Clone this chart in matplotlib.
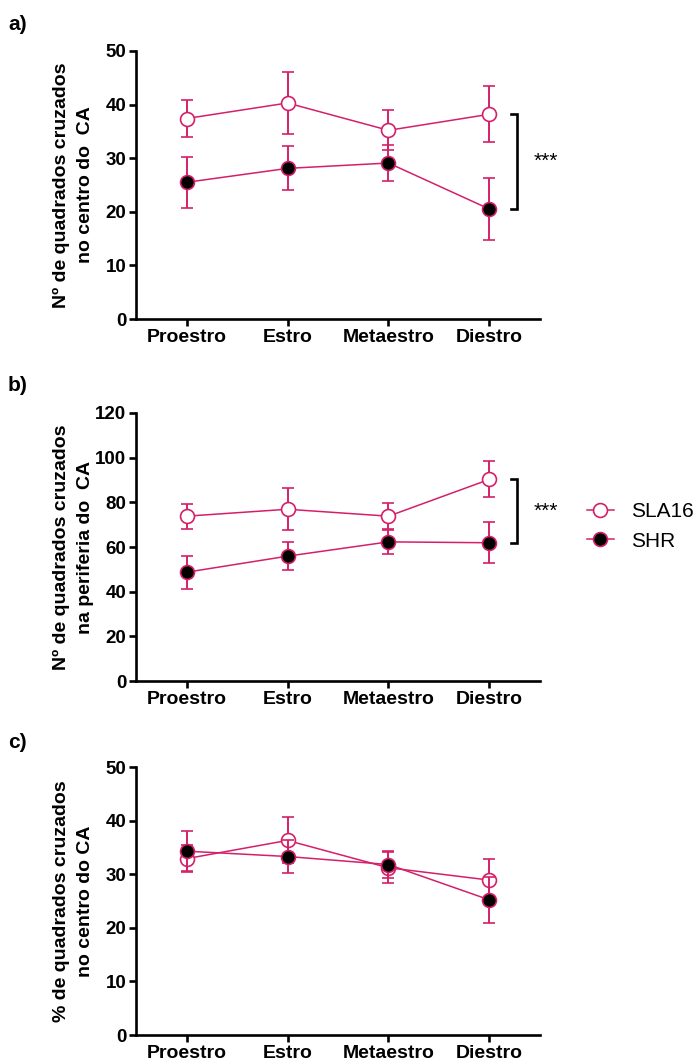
import matplotlib
matplotlib.use("Agg")
import matplotlib.pyplot as plt
import numpy as np

plt.rcParams['font.family'] = ['Liberation Sans', 'DejaVu Sans']

categories = ["Proestro", "Estro", "Metaestro", "Diestro"]
series_names = ["SLA16", "SHR"]

# Panel a: Nº de quadrados cruzados no centro do CA
a_sla16 = [37.4, 40.3, 35.2, 38.2]
a_sla16_sem = [3.4, 5.8, 3.7, 5.2]
a_shr = [25.5, 28.1, 29.1, 20.5]
a_shr_sem = [4.7, 4.1, 3.3, 5.8]

# Panel b: Nº de quadrados cruzados na periferia do CA
b_sla16 = [73.8, 76.9, 73.8, 90.3]
b_sla16_sem = [5.6, 9.3, 5.8, 8.1]
b_shr = [48.7, 55.9, 62.3, 61.9]
b_shr_sem = [7.4, 6.4, 5.4, 9.2]

# Panel c: % de quadrados cruzados no centro do CA
c_sla16 = [32.9, 36.3, 31.2, 28.9]
c_sla16_sem = [2.5, 4.3, 2.9, 3.9]
c_shr = [34.3, 33.3, 31.8, 25.2]
c_shr_sem = [3.7, 3.0, 2.6, 4.3]

panels = [
    dict(letter="a)", sla=a_sla16, sla_e=a_sla16_sem, shr=a_shr, shr_e=a_shr_sem,
         ylabel="Nº de quadrados cruzados\nno centro do  CA", ymax=50, yticks=[0, 10, 20, 30, 40, 50],
         sig="***"),
    dict(letter="b)", sla=b_sla16, sla_e=b_sla16_sem, shr=b_shr, shr_e=b_shr_sem,
         ylabel="Nº de quadrados cruzados\nna periferia do  CA", ymax=120,
         yticks=[0, 20, 40, 60, 80, 100, 120], sig="***"),
    dict(letter="c)", sla=c_sla16, sla_e=c_sla16_sem, shr=c_shr, shr_e=c_shr_sem,
         ylabel="% de quadrados cruzados\nno centro do CA", ymax=50, yticks=[0, 10, 20, 30, 40, 50],
         sig=None),
]

COL = '#D4206A'
W, H = 697, 1064
fig = plt.figure(figsize=(W / 100, H / 100), dpi=100)

ax_left, ax_w, ax_h = 136, 404, 268
tops = [51, 413, 767]
letter_y = [24, 385, 742]

x = np.arange(len(categories))
axes = []
for p, top, ly in zip(panels, tops, letter_y):
    ax = fig.add_axes([ax_left / W, (H - top - ax_h) / H, ax_w / W, ax_h / H])
    axes.append(ax)
    l1 = ax.errorbar(x, p["sla"], yerr=p["sla_e"], fmt='-o', color=COL, lw=1.1,
                     elinewidth=1.4, capsize=4.5, capthick=1.4, markersize=10,
                     markerfacecolor='white', markeredgecolor=COL, markeredgewidth=1.2,
                     zorder=3, clip_on=False, label=series_names[0])
    l2 = ax.errorbar(x, p["shr"], yerr=p["shr_e"], fmt='-o', color=COL, lw=1.1,
                     elinewidth=1.4, capsize=4.5, capthick=1.4, markersize=10,
                     markerfacecolor='black', markeredgecolor=COL, markeredgewidth=1.2,
                     zorder=4, clip_on=False, label=series_names[1])
    ax.set_xlim(-0.5, 3.5)
    ax.set_ylim(0, p["ymax"])
    ax.set_yticks(p["yticks"])
    ax.set_xticks(x)
    ax.set_xticklabels(categories, fontsize=14, fontweight='bold')
    for t in ax.get_yticklabels():
        t.set_fontsize(13.5)
        t.set_fontweight('bold')
    for s in ['top', 'right']:
        ax.spines[s].set_visible(False)
    for s in ['left', 'bottom']:
        ax.spines[s].set_linewidth(1.9)
    ax.tick_params(axis='both', direction='out', length=5, width=1.9, pad=2)
    ax.set_ylabel(p["ylabel"], fontsize=14, fontweight='bold', linespacing=1.55)
    ax.yaxis.set_label_coords(-0.103, 0.5)
    fig.text(8 / W, 1 - ly / H, p["letter"], fontsize=15, fontweight='bold',
             ha='left', va='center')
    if p["sig"]:
        xb = 3.27
        d = 0.06
        ytop = p["sla"][-1]
        ybot = p["shr"][-1]
        ax.plot([xb - d, xb, xb, xb - d], [ytop, ytop, ybot, ybot], color='black',
                lw=1.9, clip_on=False, solid_joinstyle='miter')
        ax.text(xb + 0.17, (ytop + ybot) / 2, p["sig"], fontsize=15, ha='left',
                va='center')

axes[1].legend(handles=[l1[0], l2[0]], labels=series_names, loc='center left',
               bbox_to_anchor=(1.116, 0.5765), frameon=False, borderaxespad=0,
               borderpad=0, handlelength=1.3, handletextpad=0.8, labelspacing=0.5,
               fontsize=15, numpoints=1)

fig.savefig("out.png", dpi=100)
